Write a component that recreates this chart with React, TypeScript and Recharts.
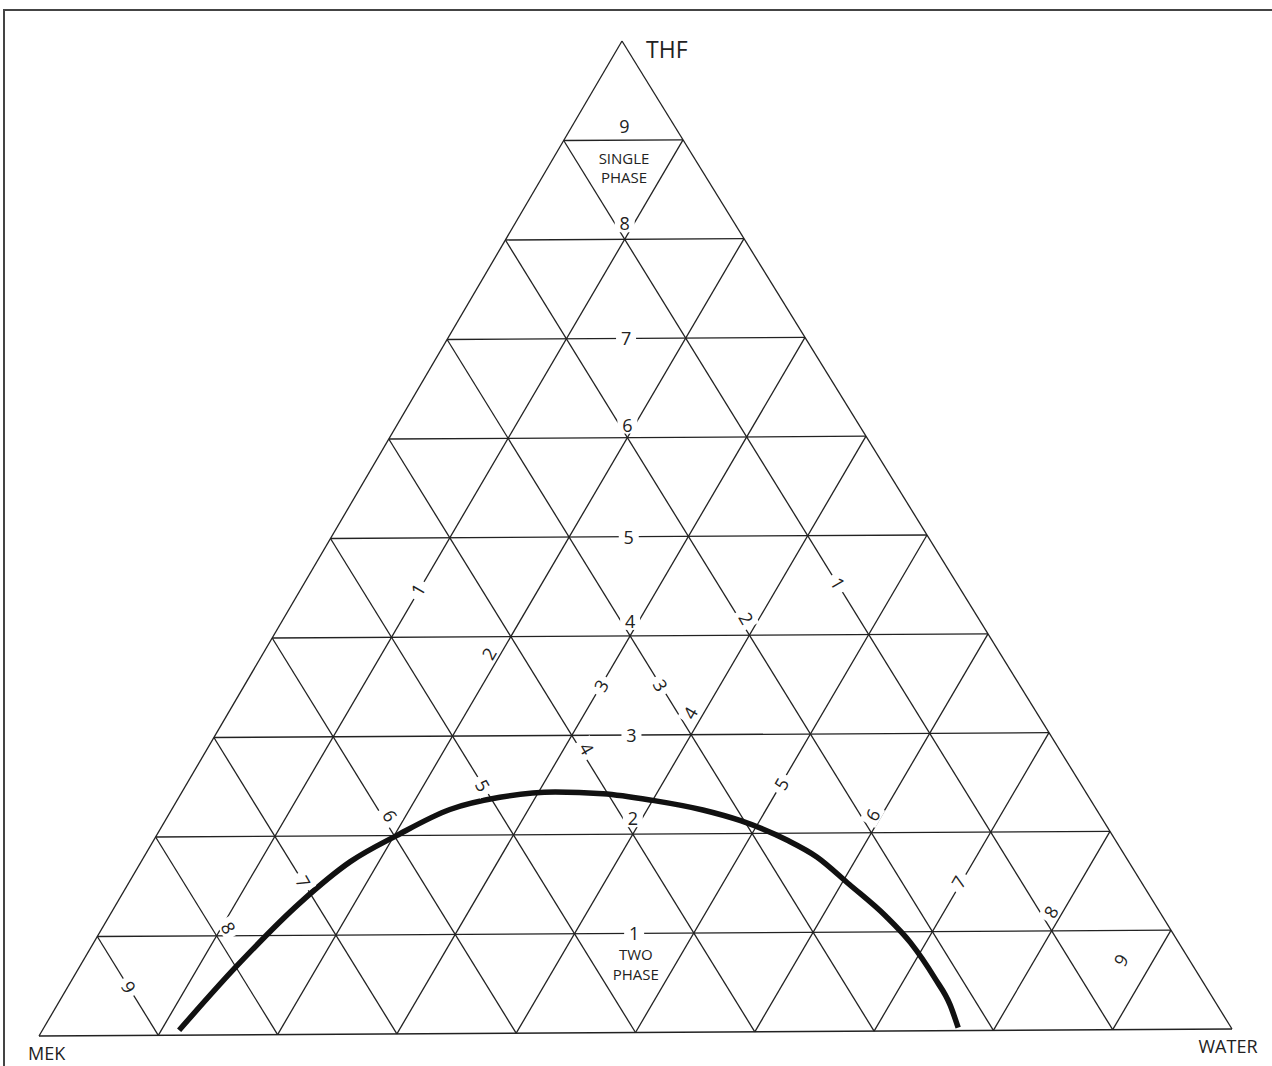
import { ComposedChart, Line, Scatter, XAxis, YAxis } from 'recharts';

// ternary MEK / THF / WATER, all values in percent
const TICKS = [1, 2, 3, 4, 5, 6, 7, 8, 9];
const GRID_LEVELS = [0, 10, 20, 30, 40, 50, 60, 70, 80, 90];

// binodal curve (MEK = 100 - THF - WATER)
const CURVE_THF = [0.5, 7.0, 13.3, 17.4, 20.0, 22.6, 23.8, 24.3, 24.1, 23.4, 22.4, 21.3, 19.3, 17.6, 14.8, 11.6, 8.9, 5.3, 2.6, 0.3];
const CURVE_WATER = [11.5, 13.2, 15.4, 17.6, 20.2, 23.4, 27.0, 31.4, 35.5, 40.0, 44.7, 48.4, 53.3, 56.6, 60.7, 65.3, 68.7, 72.5, 75.1, 76.9];

// triangle geometry (apex is not centred, base slightly tilted)
const SKEW = 583 / 1193;
const TILT = 7 / 995;

const W = 1272;
const H = 1066;
const FONT = '"Open Sans", "Noto Sans", sans-serif';
const INK = '#222';

function project(thf: number, water: number) {
  const t = thf / 100;
  const w = water / 100;
  return { x: w + t * SKEW, y: t + w * TILT };
}

// grid: three families of lines, level 0 gives the triangle edges
const gridLines = [
  ...GRID_LEVELS.map(l => [project(l, 0), project(l, 100 - l)]),
  ...GRID_LEVELS.map(l => [project(0, l), project(100 - l, l)]),
  ...GRID_LEVELS.map(l => [project(0, 100 - l), project(100 - l, 0)]),
];

const curveData = CURVE_THF.map((t, i) => project(t, CURVE_WATER[i]));

// label nudges in px (even ticks sit beside a grid node instead of on the line)
const THF_NUDGE: [number, number][] = [[0, 0], [0, -16], [0, 0], [0, -15], [0, 0], [0, -13], [0, 0], [0, -16], [1, -14]];
const WATER_NUDGE: [number, number][] = [[-3, 2], [-22, 17], [0, 0], [-1, -22], [0, 0], [1, -18], [-3, 0], [-1, -19], [-21, -20]];
const MEK_NUDGE: [number, number][] = [[0, -2], [-3, -17], [0, 0], [15, 13], [0, 0], [-4, -20], [-2, -4], [12, -8], [1, 1]];

const tickLabels = [
  ...TICKS.map((k, i) => ({ ...project(k * 10, (100 - k * 10) / 2), text: String(k), dx: THF_NUDGE[i][0], dy: THF_NUDGE[i][1], rot: 0, size: 18, bg: true })),
  ...TICKS.map((k, i) => ({ ...project((100 - k * 10) / 2, k * 10), text: String(k), dx: WATER_NUDGE[i][0], dy: WATER_NUDGE[i][1], rot: -60, size: 18, bg: true })),
  ...TICKS.map((k, i) => ({ ...project((100 - k * 10) / 2, (100 - k * 10) / 2), text: String(k), dx: MEK_NUDGE[i][0], dy: MEK_NUDGE[i][1], rot: 60, size: 18, bg: true })),
];

const captions = [
  { ...project(100, 0), text: 'THF', dx: 24, dy: 8, rot: 0, size: 23, anchor: 'start' },
  { ...project(0, 0), text: 'MEK', dx: -11, dy: 17, rot: 0, size: 18, anchor: 'start' },
  { ...project(0, 100), text: 'WATER', dx: -4, dy: 17, rot: 0, size: 18, anchor: 'middle' },
  { ...project(85, 7.5), text: 'SINGLE', dx: 0, dy: -31.5, rot: 0, size: 15, anchor: 'middle' },
  { ...project(85, 7.5), text: 'PHASE', dx: 0, dy: -12.5, rot: 0, size: 15, anchor: 'middle' },
  { ...project(5, 47.5), text: 'TWO', dx: 1, dy: -28.5, rot: 0, size: 15, anchor: 'middle' },
  { ...project(5, 47.5), text: 'PHASE', dx: 1, dy: -9, rot: 0, size: 15, anchor: 'middle' },
];

const LabelShape = (props: any) => {
  const { cx, cy, payload } = props;
  if (cx == null || cy == null || !payload) return <g />;
  const p = payload;
  return (
    <g transform={`translate(${cx + p.dx},${cy + p.dy}) rotate(${p.rot})`}>
      {p.bg && <rect x={-10} y={-9} width={20} height={18} fill="#fff" />}
      <text
        x={0}
        y={0}
        textAnchor={p.anchor || 'middle'}
        dominantBaseline="central"
        fontSize={p.size}
        fontFamily={FONT}
        fill={INK}
      >
        {p.text}
      </text>
    </g>
  );
};

export default function App() {
  return (
    <div style={{ position: 'absolute', left: 0, top: 0, width: W, height: H, overflow: 'hidden', background: '#fff' }}>
      <div
        style={{
          position: 'absolute',
          left: 3,
          top: 9,
          width: W + 20,
          height: H + 20,
          borderLeft: '2px solid #444',
          borderTop: '2px solid #444',
        }}
      />
      <div style={{ position: 'absolute', left: 0, top: 0 }}>
        <ComposedChart width={W} height={H} margin={{ top: 41, right: 40, bottom: 30, left: 39 }}>
          <XAxis dataKey="x" type="number" domain={[0, 1]} hide />
          <YAxis dataKey="y" type="number" domain={[0, 1]} hide />
          {gridLines.map((seg, i) => (
            <Line
              key={`grid-${i}`}
              data={seg}
              dataKey="y"
              stroke={INK}
              strokeWidth={1.3}
              dot={false}
              activeDot={false}
              isAnimationActive={false}
            />
          ))}
          <Scatter data={tickLabels} dataKey="y" shape={LabelShape} isAnimationActive={false} />
          <Scatter data={captions} dataKey="y" shape={LabelShape} isAnimationActive={false} />
          <Line
            data={curveData}
            dataKey="y"
            type="monotone"
            stroke="#111"
            strokeWidth={5.5}
            dot={false}
            activeDot={false}
            isAnimationActive={false}
          />
        </ComposedChart>
      </div>
    </div>
  );
}
